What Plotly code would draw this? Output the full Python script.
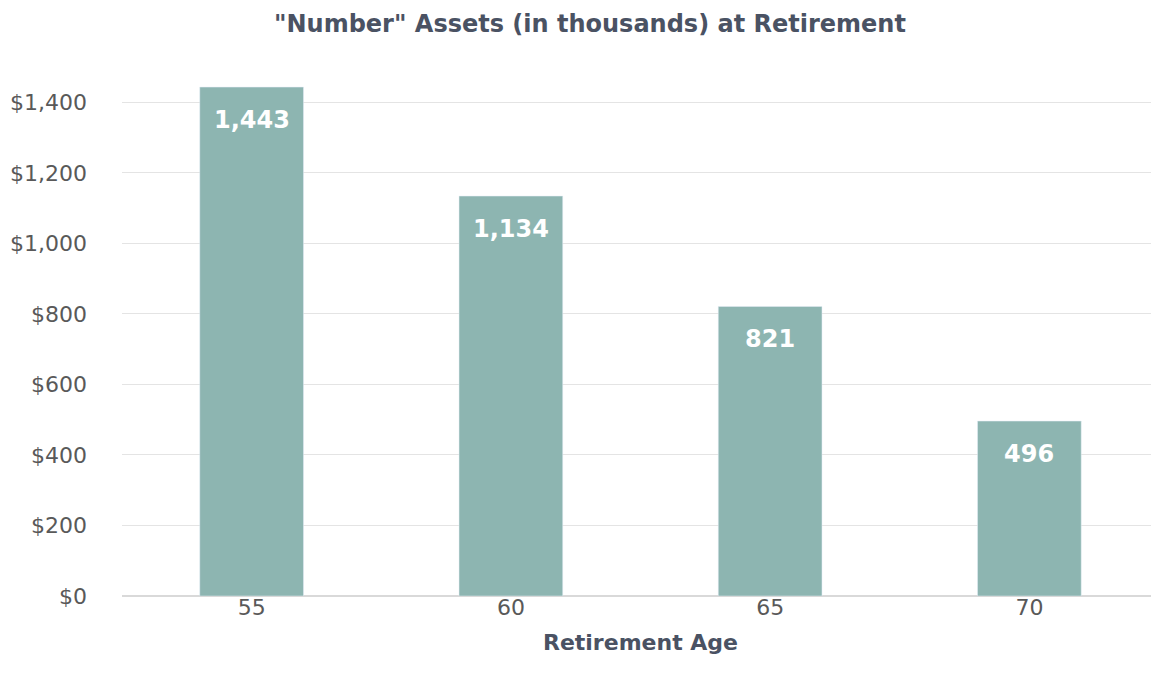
import plotly.graph_objects as go

ages = ["55", "60", "65", "70"]
assets = [1443, 1134, 821, 496]
labels = ["1,443", "1,134", "821", "496"]
ytick_vals = [0, 200, 400, 600, 800, 1000, 1200, 1400]
ytick_text = ["$0", "$200", "$400", "$600", "$800", "$1,000", "$1,200", "$1,400"]

bar_color = "#8DB5B1"
text_color = "#595959"
title_color = "#4A5263"
font_family = "'DejaVu Sans', sans-serif"

fig = go.Figure()
fig.add_trace(go.Bar(
    x=ages, y=assets, marker_color=bar_color, width=0.4,
    hoverinfo="skip",
))
for i, (v, t) in enumerate(zip(assets, labels)):
    fig.add_annotation(x=i, y=v, text=t, showarrow=False, yshift=-33,
                       font=dict(family=font_family, size=24, color="white", weight="bold"))

# page body has an 8px margin, so the figure is sized/offset to compensate
fig.update_layout(
    width=1151, height=681,
    margin=dict(l=114, r=0, t=59, b=93, autoexpand=False),
    paper_bgcolor="white", plot_bgcolor="white",
    showlegend=False,
    title=dict(text='"Number" Assets (in thousands) at Retirement', x=0.5056, xanchor="center",
               y=0.977, yanchor="middle",
               font=dict(family=font_family, size=24, color=title_color, weight="bold")),
    xaxis=dict(type="category", range=[-0.5, 3.5], showgrid=False, showline=False,
               ticks="", ticklen=0, ticklabelstandoff=-4,
               tickfont=dict(family=font_family, size=22, color=text_color),
               title=dict(text="Retirement Age", standoff=15,
                          font=dict(family=font_family, size=22, color=title_color, weight="bold"))),
    yaxis=dict(range=[0, 1500], tickvals=ytick_vals, ticktext=ytick_text,
               showgrid=True, gridcolor="#E4E4E4", gridwidth=1,
               zeroline=True, zerolinecolor="#D9D9D9", zerolinewidth=1.5,
               showline=False, ticks="", ticklabelstandoff=34,
               tickfont=dict(family=font_family, size=22, color=text_color)),
    bargap=0.6,
)

fig.write_html("out.html")
